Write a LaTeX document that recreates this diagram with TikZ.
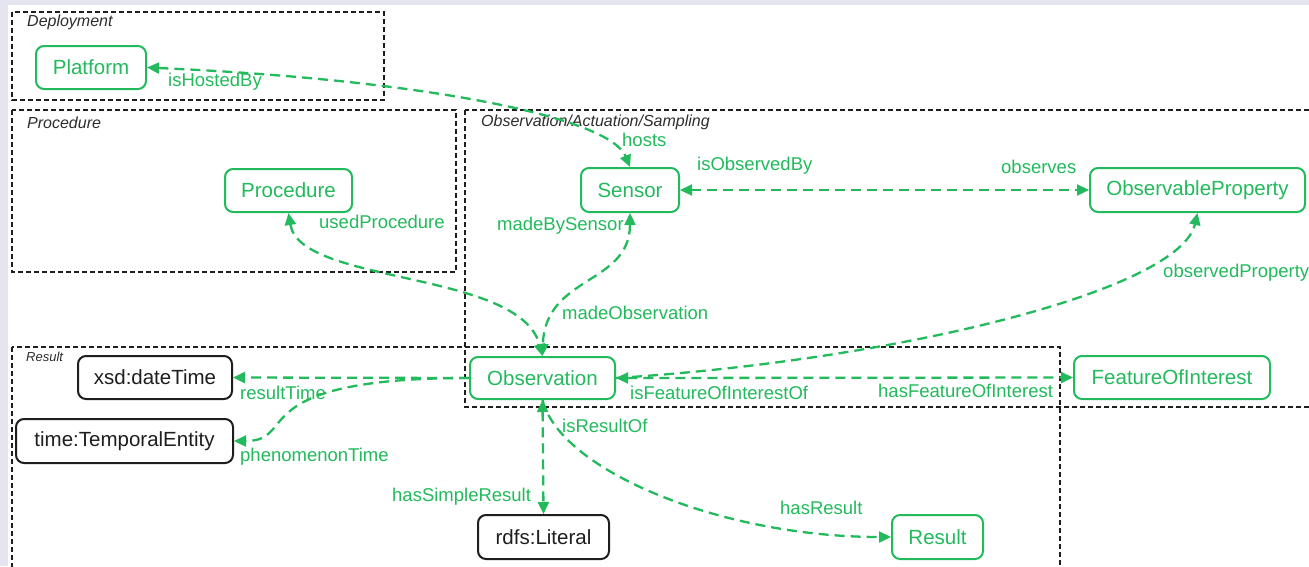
\documentclass[tikz,border=0pt]{standalone}
\usepackage{fontspec}
\setmainfont{Liberation Sans}
\usetikzlibrary{arrows.meta}
\definecolor{sgreen}{RGB}{34,186,92}
\definecolor{bglav}{RGB}{229,229,240}
\definecolor{titlegray}{RGB}{45,45,45}
\definecolor{boxblack}{RGB}{30,30,30}
\begin{document}
\begin{tikzpicture}[x=1pt,y=-1pt,
  >={Triangle[length=12pt,width=11pt]},
  gnode/.style={draw=sgreen, fill=white, text=sgreen, line width=2pt, rounded corners=8pt,
    font=\fontsize{20.5}{24}\selectfont, inner sep=0pt},
  bnode/.style={draw=boxblack, fill=white, text=boxblack, line width=2pt, rounded corners=8pt,
    font=\fontsize{20.5}{24}\selectfont, inner sep=0pt},
  grp/.style={draw=boxblack, line width=2pt, dash pattern=on 5pt off 3pt},
  grptitle/.style={font=\fontsize{16}{18}\selectfont\itshape, text=titlegray, anchor=west, inner sep=0pt},
  lbl/.style={text=sgreen, font=\fontsize{18.5}{20}\selectfont, anchor=west, inner sep=0pt},
  rel/.style={draw=sgreen, line width=2.3pt, dash pattern=on 10pt off 6pt}
]
\useasboundingbox (0,0) rectangle (1309,566);
\clip (0,0) rectangle (1309,566);
\fill[bglav] (0,0) rectangle (1309,566);
\fill[white] (8,5) rectangle (1309,566);

% groups
\draw[grp] (12,12) rectangle (384,100);
\draw[grp] (12,110) rectangle (456,272);
\draw[grp] (465,110) rectangle (1330,407);
\draw[grp] (12,347) rectangle (1060,600);
\node[grptitle] (tdep) at (27,22) {Deployment};
\node[grptitle] (tproc) at (27,123) {Procedure};
\node[grptitle] (tobs) at (481,122) {Observation/Actuation/Sampling};
\node[grptitle, font=\fontsize{13}{15}\selectfont\itshape] (tres) at (26,357) {Result};

% nodes
\node[gnode, minimum width=110pt, minimum height=43pt] (platform) at (91,67.5) {Platform};
\node[gnode, minimum width=127pt, minimum height=43pt] (procedure) at (288.5,190.5) {Procedure};
\node[gnode, minimum width=98pt, minimum height=44pt] (sensor) at (630,190) {Sensor};
\node[gnode, minimum width=215pt, minimum height=44pt] (obsprop) at (1197.5,190) {ObservableProperty};
\node[gnode, minimum width=145pt, minimum height=42pt] (observation) at (542.5,378) {Observation};
\node[gnode, minimum width=196pt, minimum height=43pt] (foi) at (1172,377.5) {FeatureOfInterest};
\node[bnode, minimum width=154pt, minimum height=43pt] (datetime) at (155,377.5) {xsd:dateTime};
\node[bnode, minimum width=217pt, minimum height=44pt] (temporal) at (124.5,441) {time:TemporalEntity};
\node[bnode, minimum width=131pt, minimum height=44pt] (literal) at (543.5,537) {rdfs:Literal};
\node[gnode, minimum width=91pt, minimum height=44pt] (result) at (937.5,537) {Result};

% connectors
\draw[rel,<->] (platform.east) .. controls (430,80) and (610,118) .. (sensor.north);
\draw[rel,<->] (sensor.east) -- (obsprop.west);
\draw[rel,<->] (sensor.south) .. controls (630,285) and (545,275) .. (observation.north);
\draw[rel,<->] (procedure.south) .. controls (300,285) and (520,270) .. (observation.north);
\draw[rel,->] (observation.east) .. controls (900,360) and (1180,290) .. (obsprop.south);
\draw[rel,<->] (observation.east) -- (foi.west);
\draw[rel,->] (observation.west) -- (datetime.east);
\draw[rel,->] (observation.west) .. controls (240,378) and (300,441) .. (temporal.east);
\draw[rel,<->] (observation.south) -- (literal.north);
\draw[rel,->] (observation.south) .. controls (560,470) and (720,537) .. (result.west);

% labels
\node[lbl] (lhostedby) at (168,82) {isHostedBy};
\node[lbl] (lhosts) at (622,140) {hosts};
\node[lbl] (lisobs) at (697,166) {isObservedBy};
\node[lbl] (lobserves) at (1001,167) {observes};
\node[lbl] (lmadeby) at (497,226) {madeBySensor};
\node[lbl] (lusedproc) at (319,222) {usedProcedure};
\node[lbl] (lmadeobs) at (562,313) {madeObservation};
\node[lbl] (lobsprop) at (1163,273) {observedProperty};
\node[lbl] (lrestime) at (240,393) {resultTime};
\node[lbl] (lisfoi) at (630,393) {isFeatureOfInterestOf};
\node[lbl] (lhasfoi) at (878,391) {hasFeatureOfInterest};
\node[lbl] (lisres) at (562,426) {isResultOf};
\node[lbl] (lphen) at (240,457) {phenomenonTime};
\node[lbl] (lsimple) at (392,497) {hasSimpleResult};
\node[lbl] (lhasres) at (780,508) {hasResult};
\end{tikzpicture}
\end{document}
